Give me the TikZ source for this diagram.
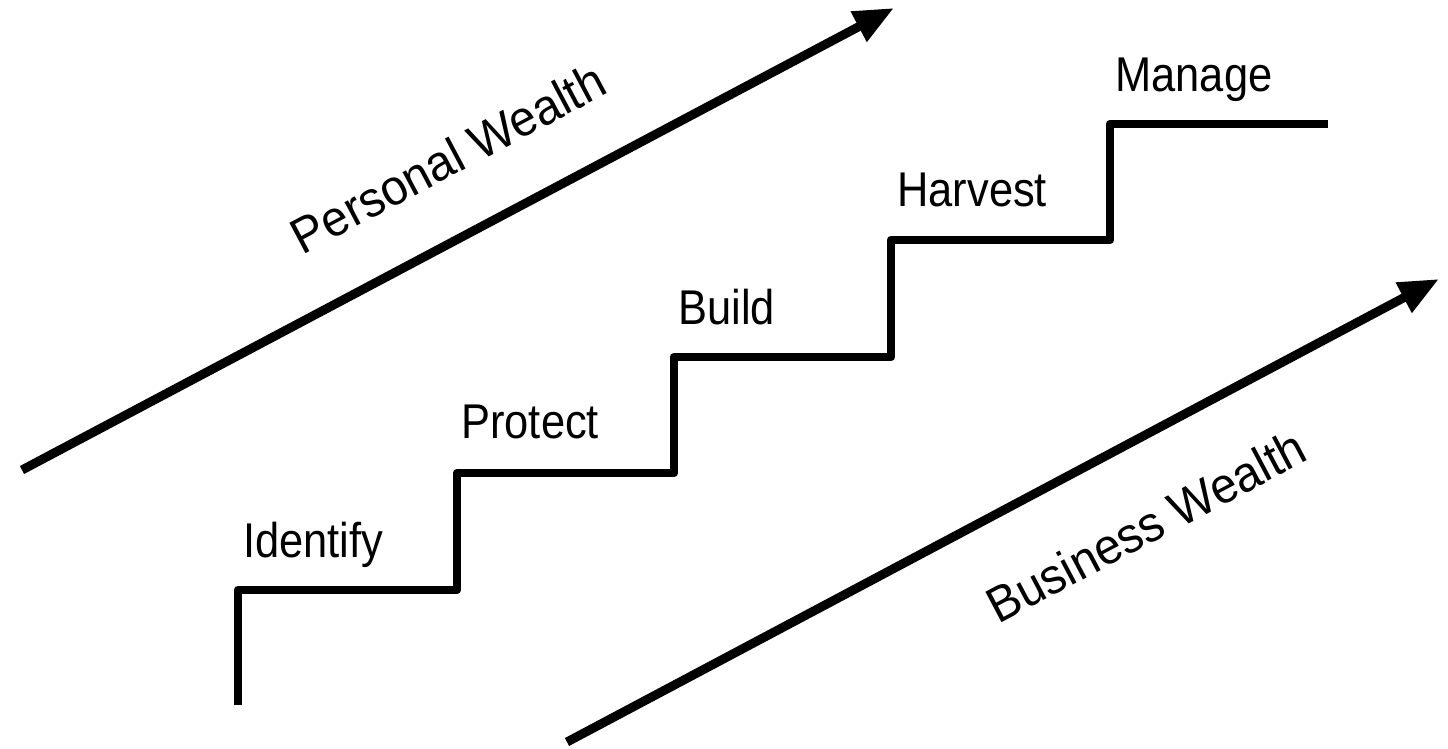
\documentclass[tikz,border=0pt]{standalone}
\usepackage{fontspec}
\setmainfont{Liberation Sans}
\usetikzlibrary{arrows.meta}
\newcommand{\narrowtxt}[1]{\scalebox{0.89}[1]{#1}}
\newcommand{\rottxt}[1]{\scalebox{0.95}[1]{#1}}
\tikzset{
  lbl/.style={inner sep=0pt, anchor=base west, font=\fontsize{24.4pt}{28pt}\selectfont},
  rlbl/.style={inner sep=0pt, rotate=27.9, font=\fontsize{25pt}{28pt}\selectfont},
  stair/.style={line width=4.4pt, line join=round},
  warrow/.style={line width=4.5pt, -{Triangle[length=20pt,width=16pt]}}
}
\begin{document}
\begin{tikzpicture}[x=0.5pt,y=-0.5pt]
\useasboundingbox (0,0) rectangle (1448,749);
% staircase corners
\coordinate (s0) at (238,705);
\coordinate (s1) at (238,590);
\coordinate (s2) at (457,590);
\coordinate (s3) at (457,473);
\coordinate (s4) at (674,473);
\coordinate (s5) at (674,357);
\coordinate (s6) at (891,357);
\coordinate (s7) at (891,240);
\coordinate (s8) at (1110,240);
\coordinate (s9) at (1110,124);
\coordinate (s10) at (1328,124);
\draw[stair] (s0) -- (s1) -- (s2) -- (s3) -- (s4) -- (s5) -- (s6) -- (s7) -- (s8) -- (s9) -- (s10);
% step labels
\node[lbl] (identify) at (243,557) {\narrowtxt{Identify}};
\node[lbl] (protect) at (461,438) {\narrowtxt{Protect}};
\node[lbl] (build) at (678,324) {\narrowtxt{Build}};
\node[lbl] (harvest) at (897,207) {\narrowtxt{Harvest}};
\node[lbl] (manage) at (1115,92) {\narrowtxt{Manage}};
% wealth arrows
\coordinate (pa) at (22,470);
\coordinate (pb) at (894,8);
\draw[warrow] (pa) -- (pb);
\coordinate (ba) at (567,742);
\coordinate (bb) at (1439,279);
\draw[warrow] (ba) -- (bb);
\node[rlbl] (personal) at (448,158) {\rottxt{Personal Wealth}};
\node[rlbl] (business) at (1146,526) {\rottxt{Business Wealth}};
\end{tikzpicture}
\end{document}
